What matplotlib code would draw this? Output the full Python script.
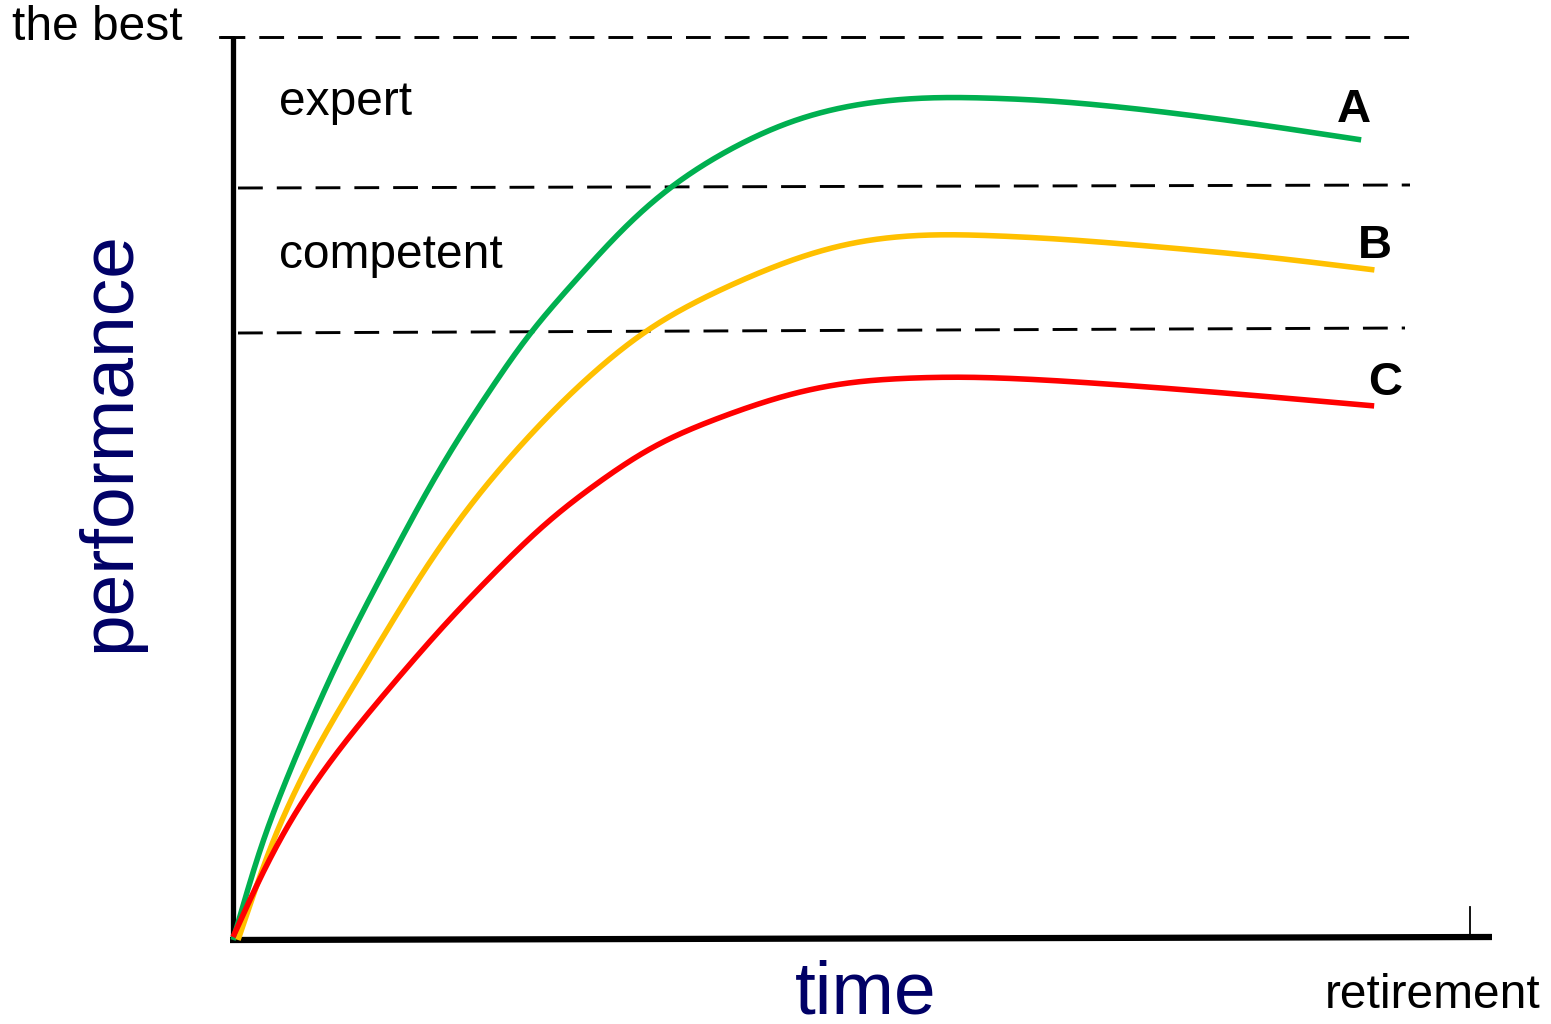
#!/usr/bin/env python3

import numpy as np
import matplotlib
matplotlib.use('Agg')
import matplotlib.pyplot as plt

plt.rcParams['font.family'] = ['Liberation Sans', 'DejaVu Sans']

# curves (image pixel coordinates, y grows downwards)
a_x = [233, 263, 297, 330, 358, 390, 427, 463, 497, 530, 570, 620, 667, 720,
       787, 853, 930, 1050, 1150, 1250, 1362]
a_y = [940, 837, 753, 677, 620, 560, 490, 430, 380, 330, 287, 230, 187, 153,
       120, 103, 96, 100, 110, 123, 140]

b_x = [238, 273, 313, 357, 393, 430, 473, 513, 550, 587, 647, 703, 787, 853,
       930, 1050, 1150, 1270, 1375]
b_y = [940, 837, 753, 680, 620, 560, 500, 453, 413, 377, 327, 297, 260, 240,
       233, 238, 246, 257, 270]

c_x = [233, 263, 297, 340, 390, 448, 490, 550, 653, 720, 787, 853, 960, 1050,
       1150, 1250, 1375]
c_y = [937, 870, 807, 747, 687, 620, 577, 517, 443, 417, 393, 380, 376, 380,
       387, 395, 406]

curve_names = ['A', 'B', 'C']
curve_colors = ['#00b050', '#ffc000', '#ff0000']
name_pos = [(1337, 122), (1358, 258), (1368, 395)]

# level boundaries (dashed): start, end
levels = [((220, 37), (1420, 37)),
          ((238, 188), (1410, 185)),
          ((238, 333), (1405, 328))]
level_names = ['expert', 'competent']


def smooth_path(xs, ys, sigma=38.0):
    # straight segments through the read points, resampled by arc length,
    # then a gaussian blur to take out reading wobbles
    x = np.asarray(xs, float)
    y = np.asarray(ys, float)
    s = np.concatenate([[0], np.cumsum(np.hypot(np.diff(x), np.diff(y)))])
    ss = np.arange(0, s[-1], 1.0)
    x = np.interp(ss, s, x)
    y = np.interp(ss, s, y)
    r = int(3 * sigma)
    k = np.exp(-0.5 * (np.arange(-r, r + 1) / sigma) ** 2)
    k /= k.sum()

    def blur(v):
        # odd reflection keeps the end points and end slopes
        head = 2 * v[0] - v[1:r + 1][::-1]
        tail = 2 * v[-1] - v[-r - 1:-1][::-1]
        return np.convolve(np.concatenate([head, v, tail]), k, mode='valid')

    return blur(x), blur(y)


fig = plt.figure(figsize=(15.51, 10.24), dpi=100)
ax = fig.add_axes([0, 0, 1, 1])
ax.set_xlim(0, 1551)
ax.set_ylim(1024, 0)
ax.axis('off')

for (x0, y0), (x1, y1) in levels:
    ax.plot([x0, x1], [y0, y1], color='black', lw=2.1, dashes=(8.5, 4.8),
            solid_capstyle='butt', dash_capstyle='butt')

# axes
ax.plot([233, 233], [37, 941], color='black', lw=3.8, solid_capstyle='butt')
ax.plot([220, 233], [37, 37], color='black', lw=2.0)
ax.plot([230, 1492], [940, 937], color='black', lw=4.5, solid_capstyle='butt')
ax.plot([1470, 1470], [907, 937], color='black', lw=1.3)

for xs, ys, col in zip([a_x, b_x, c_x], [a_y, b_y, c_y], curve_colors):
    sx, sy = smooth_path(xs, ys)
    ax.plot(sx, sy, color=col, lw=4.0, solid_capstyle='butt')

for name, (x, y) in zip(curve_names, name_pos):
    ax.text(x, y, name, fontsize=34, fontweight='bold', ha='left', va='baseline')

ax.text(12, 40, 'the best', fontsize=34.5, ha='left', va='baseline')
ax.text(279, 115, level_names[0], fontsize=34.5, ha='left', va='baseline')
ax.text(279, 268, level_names[1], fontsize=34.5, ha='left', va='baseline')
ax.text(1541, 1008, 'retirement', fontsize=34.5, ha='right', va='baseline')

ax.text(866, 1014, 'time', fontsize=54, color='#000066', ha='center', va='baseline')
ax.text(110, 442, 'performance', fontsize=54, color='#000066', ha='center',
        va='center', rotation=90)

plt.savefig('out.png', dpi=100)
